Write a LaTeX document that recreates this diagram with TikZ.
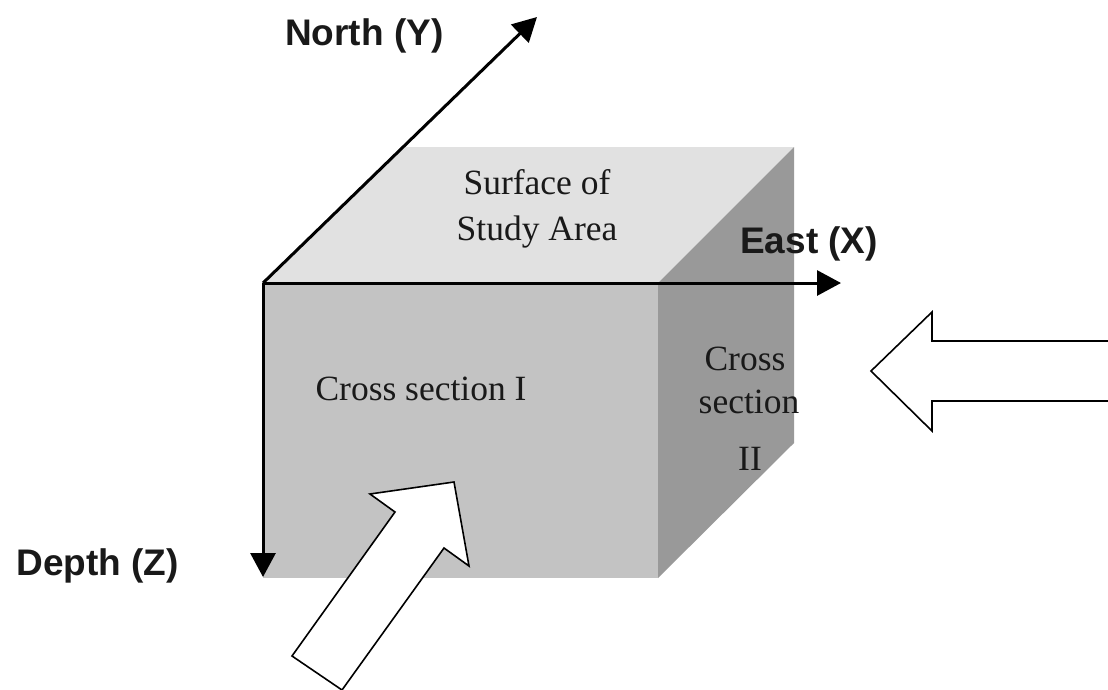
\documentclass[tikz,border=0pt]{standalone}
\usepackage{fontspec}
\newfontfamily\axisfont{Liberation Sans}
\newfontfamily\facefont{Liberation Serif}
\usetikzlibrary{arrows.meta}
\definecolor{topgray}{HTML}{E1E1E1}
\definecolor{frontgray}{HTML}{C3C3C3}
\definecolor{sidegray}{HTML}{999999}
\tikzset{
  axis/.style={line width=3pt,-{Triangle[length=24pt,width=25pt]}},
  axislabel/.style={inner sep=0pt,font=\axisfont\bfseries\fontsize{37}{44}\selectfont,text=black!90},
  facelabel/.style={inner sep=0pt,anchor=base,font=\facefont\fontsize{35.5}{42}\selectfont,text=black!90},
  bigarrow/.style={draw=black,line width=1.6pt,fill=white,line join=miter}
}
\begin{document}
\begin{tikzpicture}[x=1pt,y=-1pt]
\useasboundingbox (0,0) rectangle (1108,689);
% cube corners
\coordinate (O) at (263,283);
\coordinate (FR) at (658,283);
\coordinate (FBL) at (263,578);
\coordinate (FBR) at (658,578);
\coordinate (BL) at (401,147);
\coordinate (BR) at (794,147);
\coordinate (BBR) at (794,443);
% faces
\fill[topgray] (O) -- (BL) -- (BR) -- (FR) -- cycle;
\fill[frontgray] (O) -- (FR) -- (FBR) -- (FBL) -- cycle;
\fill[sidegray] (FR) -- (BR) -- (BBR) -- (FBR) -- cycle;
% axes
\coordinate (Yend) at (537,17);
\coordinate (Xend) at (841,283);
\coordinate (Zend) at (263,577);
\draw[axis] (O) -- (Yend);
\draw[axis] (O) -- (Xend);
\draw[axis] (O) -- (Zend);
% axis labels
\node[axislabel,anchor=base west] (ny) at (285,45) {North (Y)};
\node[axislabel,anchor=base west] (ex) at (740,253) {East (X)};
\node[axislabel,anchor=base east] (dz) at (179,575) {Depth (Z)};
% face labels
\node[facelabel] (s1) at (537,194) {Surface of};
\node[facelabel] (s2) at (537,240) {Study Area};
\node[facelabel] (c1) at (421,400) {Cross section I};
\node[facelabel] (c2a) at (745,370) {Cross};
\node[facelabel] (c2b) at (749,413) {section};
\node[facelabel] (c2c) at (750,470) {II};
% big hollow arrows
\draw[bigarrow] (1110,341) -- (932,341) -- (932,312) -- (871,371) -- (932,431) -- (932,401) -- (1110,401);
\draw[bigarrow] (342,690) -- (444,548) -- (469,566) -- (454,482) -- (370,494) -- (395,512) -- (292,656) -- cycle;
\end{tikzpicture}
\end{document}
